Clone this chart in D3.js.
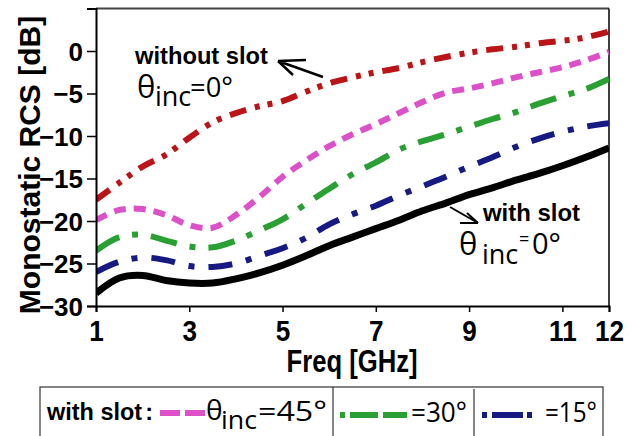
<!DOCTYPE html>
<html><head><meta charset="utf-8">
<script src="https://cdn.jsdelivr.net/npm/d3@7/dist/d3.min.js"></script>
<style>
html,body{margin:0;padding:0;background:#fff;}
svg{display:block;}
.tick text{font-family:"Liberation Sans",Arial,sans-serif;font-weight:bold;fill:#000;}
.calib{font-family:"Open Sans","Noto Sans",sans-serif;fill:#000;}
.bold{font-family:"Liberation Sans",Arial,sans-serif;font-weight:bold;fill:#000;}
</style>
</head><body>
<script>
// ---- data ----
const freq = [1,1.5,2,2.5,3,3.5,4,4.5,5,5.5,6,6.5,7,7.5,8,8.5,9,9.5,10,10.5,11,11.5,12];
const withoutSlot0 = [-17.5,-15.5,-13.6,-12.2,-10.2,-8.4,-7.3,-6.5,-5.9,-4.8,-3.8,-3.1,-2.5,-2.0,-1.3,-0.7,-0.2,0.2,0.5,0.9,1.2,1.6,2.3];
const withSlot45 = [-19.9,-18.7,-18.6,-19.3,-20.5,-20.8,-19.3,-17.2,-14.8,-12.9,-11.2,-9.8,-8.6,-7.3,-6.0,-4.9,-4.4,-3.8,-3.1,-2.5,-1.9,-1.1,-0.1];
const withSlot30 = [-23.5,-21.9,-21.6,-22.3,-23.0,-23.1,-22.3,-21.1,-19.8,-18.0,-16.2,-14.5,-13.1,-11.6,-10.6,-9.8,-8.9,-8.0,-7.2,-6.2,-5.3,-4.5,-3.3];
const withSlot15 = [-26.0,-24.8,-24.3,-24.6,-25.3,-25.4,-25.0,-24.1,-23.2,-22.0,-20.4,-19.2,-18.2,-17.0,-15.9,-14.8,-13.6,-12.5,-11.3,-10.3,-9.5,-8.9,-8.5];
const withSlot0 = [-28.5,-26.7,-26.4,-27.0,-27.3,-27.3,-26.8,-26.1,-25.2,-24.1,-22.9,-21.9,-20.9,-19.9,-18.8,-17.9,-16.9,-16.1,-15.2,-14.4,-13.5,-12.5,-11.4];
const xTicks = [1,3,5,7,9,11,12];
const yTicks = [0,-5,-10,-15,-20,-25,-30];

const series = [
  {name:"without slot 0", values:withoutSlot0, color:"#bb1418", dash:"17,9,5,8,5,9", width:6},
  {name:"with slot 45", values:withSlot45, color:"#dc50c8", dash:"12,8", width:6},
  {name:"with slot 30", values:withSlot30, color:"#2a9f33", dash:"27,13,6,13", width:6},
  {name:"with slot 15", values:withSlot15, color:"#171a82", dash:"24,14,6,14", width:6},
  {name:"with slot 0", values:withSlot0, color:"#000000", dash:null, width:7}
];

const W = 632, H = 436;
const m = {left:96, right:W-609, top:8.5, bottom:H-306};
const svg = d3.select("body").append("svg").attr("width",W).attr("height",H);

const x = d3.scaleLinear().domain([1,12]).range([m.left, W-m.right]);
const y = d3.scaleLinear().domain([-30,5]).range([H-m.bottom, m.top]);

// clip
svg.append("clipPath").attr("id","clip").append("rect")
  .attr("x",x(1)).attr("y",y(5)).attr("width",x(12)-x(1)).attr("height",y(-30)-y(5));

// frame top/right
svg.append("line").attr("x1",x(1)).attr("x2",x(12)).attr("y1",y(5)).attr("y2",y(5))
  .attr("stroke","#444").attr("stroke-width",2);
svg.append("line").attr("x1",x(12)).attr("x2",x(12)).attr("y1",y(5)).attr("y2",y(-30))
  .attr("stroke","#000").attr("stroke-width",1.5);

const line = d3.line().x((d,i)=>x(freq[i])).y(d=>y(d)).curve(d3.curveCatmullRom.alpha(0.5));
const gLines = svg.append("g").attr("clip-path","url(#clip)");
series.forEach(s=>{
  gLines.append("path").datum(s.values).attr("d",line)
    .attr("fill","none").attr("stroke",s.color).attr("stroke-width",s.width)
    .attr("stroke-dasharray",s.dash).attr("stroke-linejoin","round");
});

// axes
const xAxis = svg.append("g").attr("transform",`translate(0,${y(-30)})`)
  .call(d3.axisBottom(x).tickValues(xTicks).tickSize(6).tickPadding(6).tickFormat(d3.format("d")));
xAxis.select(".domain").attr("stroke","#000").attr("stroke-width",2);
xAxis.selectAll(".tick line").attr("stroke","#000").attr("stroke-width",1.5);
xAxis.selectAll(".tick text").attr("font-size",29).attr("dy","0.75em").attr("y",13)
  .attr("transform","scale(0.9,1)");

const yAxis = svg.append("g").attr("transform",`translate(${x(1)},0)`)
  .call(d3.axisLeft(y).tickValues(yTicks).tickSize(9).tickPadding(4).tickFormat(d3.format("d")));
yAxis.select(".domain").attr("stroke","#000").attr("stroke-width",2);
yAxis.selectAll(".tick line").attr("stroke","#000").attr("stroke-width",1.5);
yAxis.selectAll(".tick text").attr("font-size",26).attr("dy","0.36em");

// axis titles
svg.append("text").attr("class","bold").attr("font-size",30)
  .attr("text-anchor","middle").attr("transform","translate(40,165) rotate(-90)")
  .text("Monostatic RCS [dB]");
svg.append("text").attr("class","bold").attr("font-size",31)
  .attr("text-anchor","middle").attr("x",352).attr("y",372)
  .attr("textLength",131).attr("lengthAdjust","spacingAndGlyphs")
  .text("Freq [GHz]");

// annotation 1
svg.append("text").attr("class","bold").attr("font-size",23).attr("x",135).attr("y",64)
  .attr("textLength",133).attr("lengthAdjust","spacingAndGlyphs").text("without slot");
svg.append("text").attr("class","calib").attr("font-size",31).attr("x",137).attr("y",98).text("θ");
svg.append("text").attr("class","calib").attr("font-size",27).attr("x",155).attr("y",106).text("inc");
svg.append("text").attr("class","calib").attr("font-size",28).attr("x",190).attr("y",97)
  .attr("textLength",43).attr("lengthAdjust","spacingAndGlyphs").text("=0°");
const a1 = svg.append("g").attr("stroke","#000").attr("stroke-width",2.5).attr("fill","none");
a1.append("path").attr("d","M323,77 L278,61 M278,61 L306,60 M278,61 L293,75");

// annotation 2
svg.append("text").attr("class","bold").attr("font-size",24).attr("x",483).attr("y",221)
  .attr("textLength",97).attr("lengthAdjust","spacingAndGlyphs").text("with slot");
svg.append("text").attr("class","calib").attr("font-size",31).attr("x",459).attr("y",255).text("θ");
svg.append("text").attr("class","calib").attr("font-size",27).attr("x",482).attr("y",264).text("inc");
svg.append("text").attr("class","calib").attr("font-size",18).attr("x",519).attr("y",245).text("=");
svg.append("text").attr("class","calib").attr("font-size",29).attr("x",532).attr("y",254).text("0°");
const a2 = svg.append("g").attr("stroke","#000").attr("stroke-width",2).attr("fill","none");
a2.append("path").attr("d","M450,207 L478,223 M478,223 L460,223 M478,223 L467,213");

// legend
const lg = svg.append("g");
lg.append("rect").attr("x",40).attr("y",387).attr("width",563).attr("height",60)
  .attr("fill","none").attr("stroke","#333").attr("stroke-width",1.2);
lg.append("line").attr("x1",333).attr("x2",333).attr("y1",387).attr("y2",440).attr("stroke","#333").attr("stroke-width",1.2);
lg.append("line").attr("x1",474).attr("x2",474).attr("y1",389).attr("y2",440).attr("stroke","#333").attr("stroke-width",1.2);
const wt = lg.append("text").attr("class","bold").attr("font-size",23).attr("x",47).attr("y",420)
  .attr("textLength",106).attr("lengthAdjust","spacingAndGlyphs");
wt.append("tspan").text("with slot");
wt.append("tspan").attr("dx",3).text(":");
lg.append("line").attr("x1",160).attr("x2",205).attr("y1",413).attr("y2",413)
  .attr("stroke",series[1].color).attr("stroke-width",6).attr("stroke-dasharray","20,5");
lg.append("text").attr("class","calib").attr("font-size",28).attr("x",206).attr("y",420).text("θ");
lg.append("text").attr("class","calib").attr("font-size",25).attr("x",221).attr("y",429)
  .attr("textLength",36).attr("lengthAdjust","spacingAndGlyphs").text("inc");
lg.append("text").attr("class","calib").attr("font-size",28).attr("x",258).attr("y",421)
  .attr("textLength",69).attr("lengthAdjust","spacingAndGlyphs").text("=45°");
lg.append("line").attr("x1",340).attr("x2",407).attr("y1",415).attr("y2",415)
  .attr("stroke",series[2].color).attr("stroke-width",6).attr("stroke-dasharray","5,5,28,5,24");
lg.append("text").attr("class","calib").attr("font-size",28).attr("x",411).attr("y",422)
  .attr("textLength",56).attr("lengthAdjust","spacingAndGlyphs").text("=30°");
lg.append("line").attr("x1",482).attr("x2",532).attr("y1",415).attr("y2",415)
  .attr("stroke",series[3].color).attr("stroke-width",6).attr("stroke-dasharray","5,5,31,4,5");
lg.append("text").attr("class","calib").attr("font-size",28).attr("x",545).attr("y",422)
  .attr("textLength",52).attr("lengthAdjust","spacingAndGlyphs").text("=15°");
</script>
</body></html>
